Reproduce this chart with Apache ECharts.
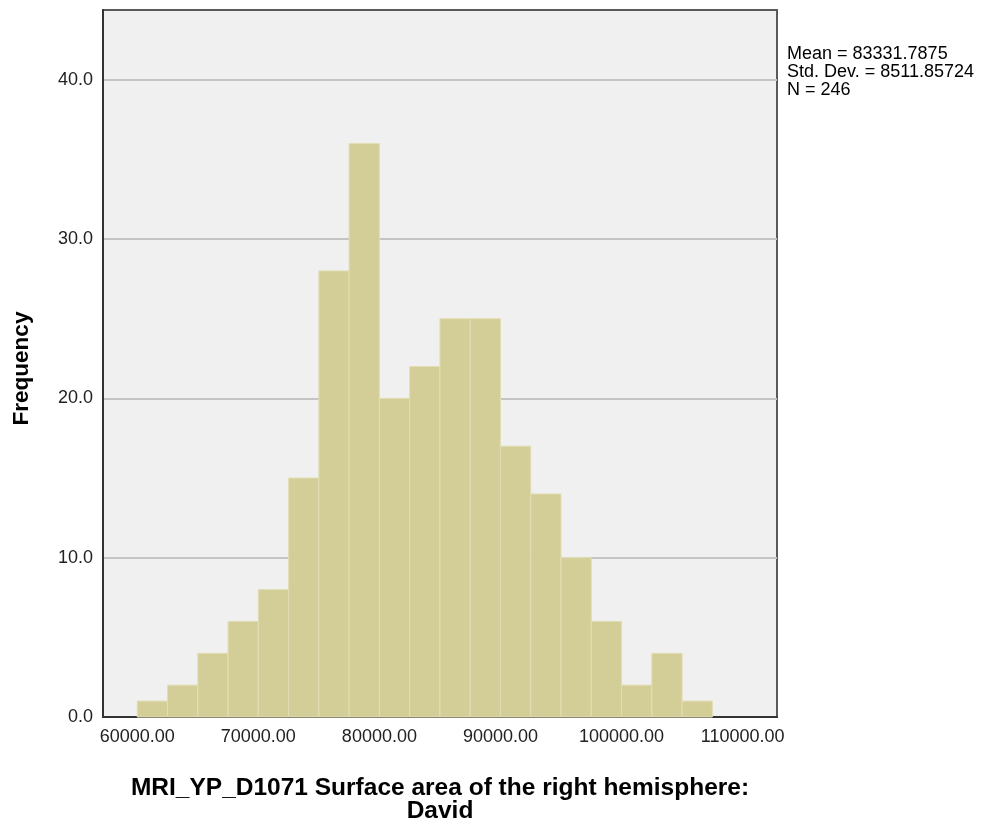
<!DOCTYPE html>
<html>
<head>
<meta charset="utf-8">
<script src="https://cdn.jsdelivr.net/npm/echarts@6/dist/echarts.min.js"></script>
<style>html,body{margin:0;padding:0;background:#fff;}#c{width:981px;height:825px;}</style>
</head>
<body>
<div id="c"></div>
<script>
const binStarts = [60000,62500,65000,67500,70000,72500,75000,77500,80000,82500,85000,87500,90000,92500,95000,97500,100000,102500,105000];
const binWidth = 2500;
const counts = [1,2,4,6,8,15,28,36,20,22,25,25,17,14,10,6,2,4,1];
const xTicks = [60000,70000,80000,90000,100000,110000];
const yTicks = [0,10,20,30,40];
const statsLines = ['Mean = 83331.7875','Std. Dev. = 8511.85724','N = 246'];
const xTitle = 'MRI_YP_D1071 Surface area of the right hemisphere:\nDavid';
const yTitle = 'Frequency';

const data = binStarts.map((s,i)=>[s, s+binWidth, counts[i]]);
const chart = echarts.init(document.getElementById('c'));
const font = 'Liberation Sans, Arial, sans-serif';
chart.setOption({
  animation:false,
  backgroundColor:'#ffffff',
  grid:{left:103,top:10,right:204,bottom:108,outerBoundsMode:'none',containLabel:false,show:true,backgroundColor:'#f0f0f0',borderColor:'#5a5a5a',borderWidth:2},
  title:{text:statsLines.join('\n'),left:782,top:40,textStyle:{fontFamily:font,fontSize:18,fontWeight:'normal',color:'#000',lineHeight:18}},
  xAxis:{type:'value',min:57170,max:112840,
    name:xTitle,nameLocation:'middle',nameGap:59,
    nameTextStyle:{fontFamily:font,fontSize:24.5,fontWeight:'bold',color:'#000',lineHeight:23.5},
    axisLine:{show:true,onZero:false,lineStyle:{color:'#333',width:2}},
    axisTick:{show:false},
    splitLine:{show:false},
    axisLabel:{customValues:xTicks,formatter:v=>v.toFixed(2),fontFamily:font,fontSize:18,color:'#222',margin:11}
  },
  yAxis:{type:'value',min:0,max:44.38,
    name:yTitle,nameLocation:'middle',nameGap:70,
    nameTextStyle:{fontFamily:font,fontSize:22.5,fontWeight:'bold',color:'#000',padding:[0,10,0,0]},
    axisLine:{show:true,lineStyle:{color:'#333',width:2}},
    axisTick:{show:false,customValues:yTicks},
    splitLine:{show:true,lineStyle:{color:'#c4c4c4',width:2}},
    axisLabel:{customValues:yTicks,formatter:v=>v.toFixed(1),fontFamily:font,fontSize:18,color:'#222',margin:10}
  },
  series:[{
    type:'custom',
    data:data,
    encode:{x:[0,1],y:2},
    renderItem:function(params,api){
      const p0 = api.coord([api.value(0), api.value(2)]);
      const p1 = api.coord([api.value(1), 0]);
      return {type:'rect',shape:{x:p0[0],y:p0[1],width:p1[0]-p0[0],height:p1[1]-p0[1]},
        style:{fill:'#d3ce97',stroke:'#e2deb3',lineWidth:1}};
    }
  }]
});
</script>
</body>
</html>
